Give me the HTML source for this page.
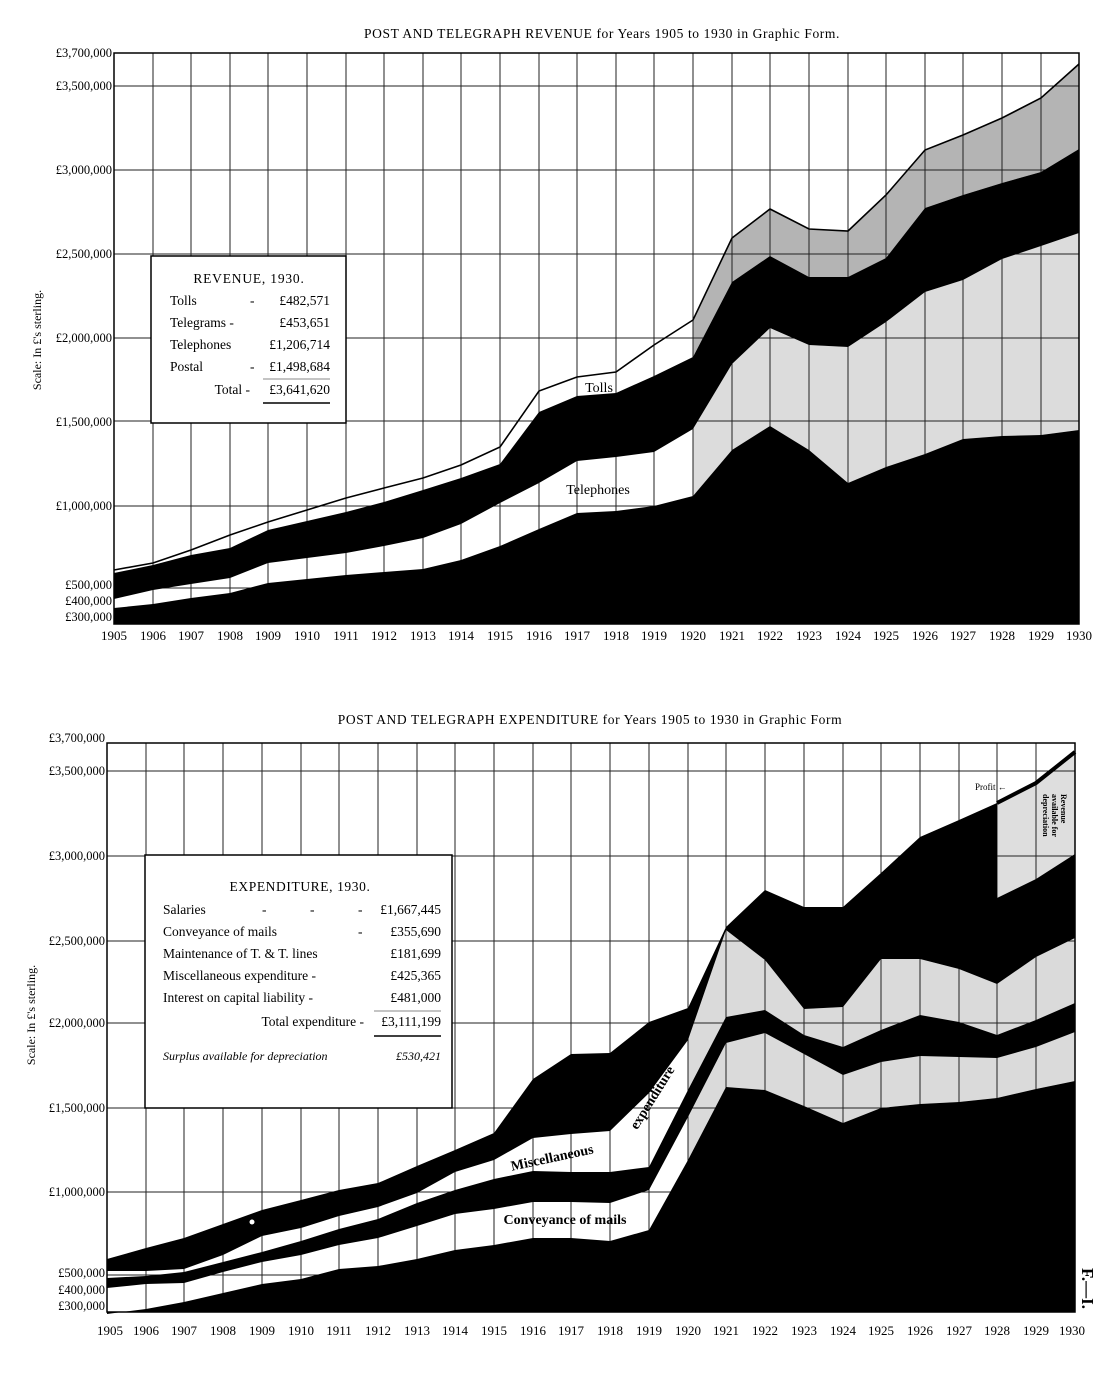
<!DOCTYPE html>
<html><head><meta charset="utf-8"><style>
html,body{margin:0;padding:0;background:#fff;}
svg{display:block;font-family:"Liberation Serif",serif;}
</style></head><body>
<svg width="1114" height="1375" viewBox="0 0 1114 1375" xmlns="http://www.w3.org/2000/svg">
<rect width="1114" height="1375" fill="#fff"/>
<!-- ===== TOP CHART ===== -->
<text x="602" y="38" font-size="13.5" text-anchor="middle" letter-spacing="0.6">POST AND TELEGRAPH REVENUE for Years 1905 to 1930 in Graphic Form.</text>
<polygon fill="#b4b4b4" points="693,320 732,238 770,209 809,229 848,231 886,195 925,150 963,135 1002,118 1041,98 1079,64 1079,149 1041,172 1002,183 963,195 925,208 886,258 848,277 809,277 770,256 732,282 693,357"/>
<polygon fill="#dcdcdc" points="693,429 732,364 770,328 809,345 848,347 886,322 925,292 963,280 1002,259 1041,246 1079,233 1079,430 1041,435 1002,436 963,439 925,454 886,467 848,483 809,450 770,426 732,450 693,496"/>
<g stroke="#222" stroke-width="1">
<line x1="153" y1="53" x2="153" y2="624"/><line x1="191" y1="53" x2="191" y2="624"/><line x1="230" y1="53" x2="230" y2="624"/><line x1="268" y1="53" x2="268" y2="624"/><line x1="307" y1="53" x2="307" y2="624"/><line x1="346" y1="53" x2="346" y2="624"/><line x1="384" y1="53" x2="384" y2="624"/><line x1="423" y1="53" x2="423" y2="624"/><line x1="461" y1="53" x2="461" y2="624"/><line x1="500" y1="53" x2="500" y2="624"/><line x1="539" y1="53" x2="539" y2="624"/><line x1="577" y1="53" x2="577" y2="624"/><line x1="616" y1="53" x2="616" y2="624"/><line x1="654" y1="53" x2="654" y2="624"/><line x1="693" y1="53" x2="693" y2="624"/><line x1="732" y1="53" x2="732" y2="624"/><line x1="770" y1="53" x2="770" y2="624"/><line x1="809" y1="53" x2="809" y2="624"/><line x1="848" y1="53" x2="848" y2="624"/><line x1="886" y1="53" x2="886" y2="624"/><line x1="925" y1="53" x2="925" y2="624"/><line x1="963" y1="53" x2="963" y2="624"/><line x1="1002" y1="53" x2="1002" y2="624"/><line x1="1041" y1="53" x2="1041" y2="624"/>
<line x1="114" y1="86" x2="1079" y2="86"/><line x1="114" y1="170" x2="1079" y2="170"/><line x1="114" y1="254" x2="1079" y2="254"/><line x1="114" y1="338" x2="1079" y2="338"/><line x1="114" y1="421" x2="1079" y2="421"/><line x1="114" y1="506" x2="1079" y2="506"/><line x1="114" y1="588" x2="1079" y2="588"/>
</g>
<polygon fill="#000" points="114,573 153,565 191,555 230,548 268,530 307,521 346,512 384,502 423,490 461,478 500,464 539,412 577,396 616,393 654,376 693,357 732,282 770,256 809,277 848,277 886,258 925,208 963,195 1002,183 1041,172 1079,149 1079,233 1041,246 1002,259 963,280 925,292 886,322 848,347 809,345 770,328 732,364 693,429 654,452 616,457 577,461 539,483 500,503 461,524 423,538 384,546 346,553 307,558 268,563 230,578 191,584 153,590 114,599"/>
<polygon fill="#000" points="114,608 153,604 191,598 230,593 268,583 307,579 346,575 384,572 423,569 461,560 500,546 539,529 577,513 616,511 654,506 693,496 732,450 770,426 809,450 848,483 886,467 925,454 963,439 1002,436 1041,435 1079,430 1079,624 114,624"/>
<polyline fill="none" stroke="#000" stroke-width="1.6" points="114,570 153,563 191,550 230,535 268,522 307,510 346,498 384,488 423,478 461,465 500,447 539,391 577,377 616,372 654,345 693,320 732,238 770,209 809,229 848,231 886,195 925,150 963,135 1002,118 1041,98 1079,64"/>
<rect x="114" y="53" width="965" height="571" fill="none" stroke="#000" stroke-width="1.5"/>
<g font-size="12.5" text-anchor="end">
<text x="112" y="57">£3,700,000</text><text x="112" y="90">£3,500,000</text><text x="112" y="174">£3,000,000</text><text x="112" y="258">£2,500,000</text><text x="112" y="342">£2,000,000</text><text x="112" y="426">£1,500,000</text><text x="112" y="510">£1,000,000</text><text x="112" y="589">£500,000</text><text x="112" y="605">£400,000</text><text x="112" y="621">£300,000</text>
</g>
<g font-size="13" text-anchor="middle">
<text x="114" y="640">1905</text><text x="153" y="640">1906</text><text x="191" y="640">1907</text><text x="230" y="640">1908</text><text x="268" y="640">1909</text><text x="307" y="640">1910</text><text x="346" y="640">1911</text><text x="384" y="640">1912</text><text x="423" y="640">1913</text><text x="461" y="640">1914</text><text x="500" y="640">1915</text><text x="539" y="640">1916</text><text x="577" y="640">1917</text><text x="616" y="640">1918</text><text x="654" y="640">1919</text><text x="693" y="640">1920</text><text x="732" y="640">1921</text><text x="770" y="640">1922</text><text x="809" y="640">1923</text><text x="848" y="640">1924</text><text x="886" y="640">1925</text><text x="925" y="640">1926</text><text x="963" y="640">1927</text><text x="1002" y="640">1928</text><text x="1041" y="640">1929</text><text x="1079" y="640">1930</text>
</g>
<text transform="translate(41,340) rotate(-90)" font-size="12" text-anchor="middle">Scale: In £'s sterling.</text>
<text x="599" y="392" font-size="14" text-anchor="middle">Tolls</text>
<text x="598" y="494" font-size="14" text-anchor="middle">Telephones</text>
<rect x="151" y="256" width="195" height="167" fill="#fff" stroke="#000" stroke-width="1.5"/>
<g font-size="13.5">
<text x="249" y="283" text-anchor="middle" letter-spacing="0.8">REVENUE, 1930.</text>
<text x="170" y="305">Tolls</text><text x="250" y="305">-</text><text x="330" y="305" text-anchor="end">£482,571</text>
<text x="170" y="327">Telegrams -</text><text x="330" y="327" text-anchor="end">£453,651</text>
<text x="170" y="349">Telephones</text><text x="330" y="349" text-anchor="end">£1,206,714</text>
<text x="170" y="371">Postal</text><text x="250" y="371">-</text><text x="330" y="371" text-anchor="end">£1,498,684</text>
<text x="250" y="394" text-anchor="end">Total  -</text><text x="330" y="394" text-anchor="end">£3,641,620</text>
</g>
<line x1="263" y1="379" x2="330" y2="379" stroke="#888" stroke-width="1"/>
<line x1="263" y1="403" x2="330" y2="403" stroke="#000" stroke-width="1.6"/>

<!-- ===== BOTTOM CHART ===== -->
<text x="590" y="724" font-size="13.5" text-anchor="middle" letter-spacing="0.6">POST AND TELEGRAPH EXPENDITURE for Years 1905 to 1930 in Graphic Form</text>
<polygon fill="#dadada" points="688,1160 726,1087 765,1090 804,1106 843,1123 881,1108 920,1104 959,1102 997,1098 1036,1089 1075,1081 1075,938 1036,957 997,984 959,969 920,959 881,959 843,1007 804,1009 765,960 726,930 688,1040"/>
<polygon fill="#dedede" points="997,803 1036,785 1075,755 1075,854 1036,879 997,898"/>
<g stroke="#222" stroke-width="1">
<line x1="146" y1="743" x2="146" y2="1312"/><line x1="184" y1="743" x2="184" y2="1312"/><line x1="223" y1="743" x2="223" y2="1312"/><line x1="262" y1="743" x2="262" y2="1312"/><line x1="301" y1="743" x2="301" y2="1312"/><line x1="339" y1="743" x2="339" y2="1312"/><line x1="378" y1="743" x2="378" y2="1312"/><line x1="417" y1="743" x2="417" y2="1312"/><line x1="455" y1="743" x2="455" y2="1312"/><line x1="494" y1="743" x2="494" y2="1312"/><line x1="533" y1="743" x2="533" y2="1312"/><line x1="571" y1="743" x2="571" y2="1312"/><line x1="610" y1="743" x2="610" y2="1312"/><line x1="649" y1="743" x2="649" y2="1312"/><line x1="688" y1="743" x2="688" y2="1312"/><line x1="726" y1="743" x2="726" y2="1312"/><line x1="765" y1="743" x2="765" y2="1312"/><line x1="804" y1="743" x2="804" y2="1312"/><line x1="843" y1="743" x2="843" y2="1312"/><line x1="881" y1="743" x2="881" y2="1312"/><line x1="920" y1="743" x2="920" y2="1312"/><line x1="959" y1="743" x2="959" y2="1312"/><line x1="997" y1="743" x2="997" y2="1312"/><line x1="1036" y1="743" x2="1036" y2="1312"/>
<line x1="107" y1="771" x2="1075" y2="771"/><line x1="107" y1="856" x2="1075" y2="856"/><line x1="107" y1="941" x2="1075" y2="941"/><line x1="107" y1="1023" x2="1075" y2="1023"/><line x1="107" y1="1108" x2="1075" y2="1108"/><line x1="107" y1="1192" x2="1075" y2="1192"/><line x1="107" y1="1275" x2="1075" y2="1275"/>
</g>
<polygon fill="#000" points="107,1314 146,1309 184,1302 223,1293 262,1284 301,1279 339,1269 378,1266 417,1259 455,1250 494,1245 533,1238 571,1238 610,1241 649,1230 688,1160 726,1087 765,1090 804,1106 843,1123 881,1108 920,1104 959,1102 997,1098 1036,1089 1075,1081 1075,1312 107,1312"/>
<polygon fill="#000" points="107,1288 146,1284 184,1283 223,1272 262,1262 301,1255 339,1245 378,1238 417,1226 455,1214 494,1209 533,1202 571,1202 610,1203 649,1190 688,1117 726,1043 765,1033 804,1054 843,1075 881,1062 920,1056 959,1057 997,1058 1036,1047 1075,1032 1075,1003 1036,1020 997,1035 959,1022 920,1015 881,1030 843,1047 804,1035 765,1010 726,1017 688,1090 649,1167 610,1172 571,1172 533,1171 494,1179 455,1190 417,1203 378,1219 339,1229 301,1241 262,1252 223,1262 184,1272 146,1276 107,1278"/>
<polygon fill="#000" points="107,1271 146,1271 184,1269 223,1255 262,1236 301,1228 339,1216 378,1207 417,1193 455,1172 494,1160 533,1138 571,1134 610,1131 649,1093 688,1040 726,930 765,960 804,1009 843,1007 881,959 920,959 959,969 997,984 1036,957 1075,938 1075,854 1036,879 997,898 997,803 959,820 920,837 881,873 843,907 804,907 765,890 726,927 688,1008 649,1022 610,1053 571,1054 533,1079 494,1133 455,1150 417,1166 378,1183 339,1190 301,1200 262,1210 223,1224 184,1238 146,1248 107,1259"/>
<polyline fill="none" stroke="#000" stroke-width="4" points="997,803 1036,783 1075,752"/>
<circle cx="252" cy="1222" r="2.5" fill="#fff"/>
<rect x="107" y="743" width="968" height="569" fill="none" stroke="#000" stroke-width="1.5"/>
<g font-size="12.5" text-anchor="end">
<text x="105" y="742">£3,700,000</text><text x="105" y="775">£3,500,000</text><text x="105" y="860">£3,000,000</text><text x="105" y="945">£2,500,000</text><text x="105" y="1027">£2,000,000</text><text x="105" y="1112">£1,500,000</text><text x="105" y="1196">£1,000,000</text><text x="105" y="1277">£500,000</text><text x="105" y="1294">£400,000</text><text x="105" y="1310">£300,000</text>
</g>
<g font-size="13" text-anchor="middle">
<text x="110" y="1335">1905</text><text x="146" y="1335">1906</text><text x="184" y="1335">1907</text><text x="223" y="1335">1908</text><text x="262" y="1335">1909</text><text x="301" y="1335">1910</text><text x="339" y="1335">1911</text><text x="378" y="1335">1912</text><text x="417" y="1335">1913</text><text x="455" y="1335">1914</text><text x="494" y="1335">1915</text><text x="533" y="1335">1916</text><text x="571" y="1335">1917</text><text x="610" y="1335">1918</text><text x="649" y="1335">1919</text><text x="688" y="1335">1920</text><text x="726" y="1335">1921</text><text x="765" y="1335">1922</text><text x="804" y="1335">1923</text><text x="843" y="1335">1924</text><text x="881" y="1335">1925</text><text x="920" y="1335">1926</text><text x="959" y="1335">1927</text><text x="997" y="1335">1928</text><text x="1036" y="1335">1929</text><text x="1072" y="1335">1930</text>
</g>
<text transform="translate(35,1015) rotate(-90)" font-size="12" text-anchor="middle">Scale: In £'s sterling.</text>
<text transform="translate(553,1162) rotate(-12)" font-size="14" font-weight="bold" text-anchor="middle">Miscellaneous</text>
<text transform="translate(656,1100) rotate(-58)" font-size="14" font-weight="bold" text-anchor="middle">expenditure</text>
<text x="565" y="1224" font-size="14" font-weight="bold" text-anchor="middle">Conveyance of mails</text>
<text x="975" y="790" font-size="9">Profit ←</text>
<text transform="translate(1061,794) rotate(90)" font-size="8" font-weight="bold">Revenue</text>
<text transform="translate(1052,794) rotate(90)" font-size="8" font-weight="bold">available for</text>
<text transform="translate(1043,794) rotate(90)" font-size="8" font-weight="bold">depreciation</text>
<text transform="translate(1082,1268) rotate(90)" font-size="17" font-weight="bold">F.—I.</text>
<rect x="145" y="855" width="307" height="253" fill="#fff" stroke="#000" stroke-width="1.5"/>
<g font-size="13.5">
<text x="300" y="891" text-anchor="middle" letter-spacing="0.6">EXPENDITURE, 1930.</text>
<text x="163" y="914">Salaries</text><text x="262" y="914">-</text><text x="310" y="914">-</text><text x="358" y="914">-</text><text x="441" y="914" text-anchor="end">£1,667,445</text>
<text x="163" y="936">Conveyance of mails</text><text x="358" y="936">-</text><text x="441" y="936" text-anchor="end">£355,690</text>
<text x="163" y="958">Maintenance of T. &amp; T. lines</text><text x="441" y="958" text-anchor="end">£181,699</text>
<text x="163" y="980">Miscellaneous expenditure -</text><text x="441" y="980" text-anchor="end">£425,365</text>
<text x="163" y="1002">Interest on capital liability -</text><text x="441" y="1002" text-anchor="end">£481,000</text>
<text x="364" y="1026" text-anchor="end">Total expenditure -</text><text x="441" y="1026" text-anchor="end">£3,111,199</text>
<text x="163" y="1060" font-size="12" font-style="italic">Surplus available for depreciation</text><text x="441" y="1060" font-size="12" font-style="italic" text-anchor="end">£530,421</text>
</g>
<line x1="374" y1="1011" x2="441" y2="1011" stroke="#888" stroke-width="1"/>
<line x1="374" y1="1036" x2="441" y2="1036" stroke="#000" stroke-width="1.6"/>
</svg>
</body></html>
